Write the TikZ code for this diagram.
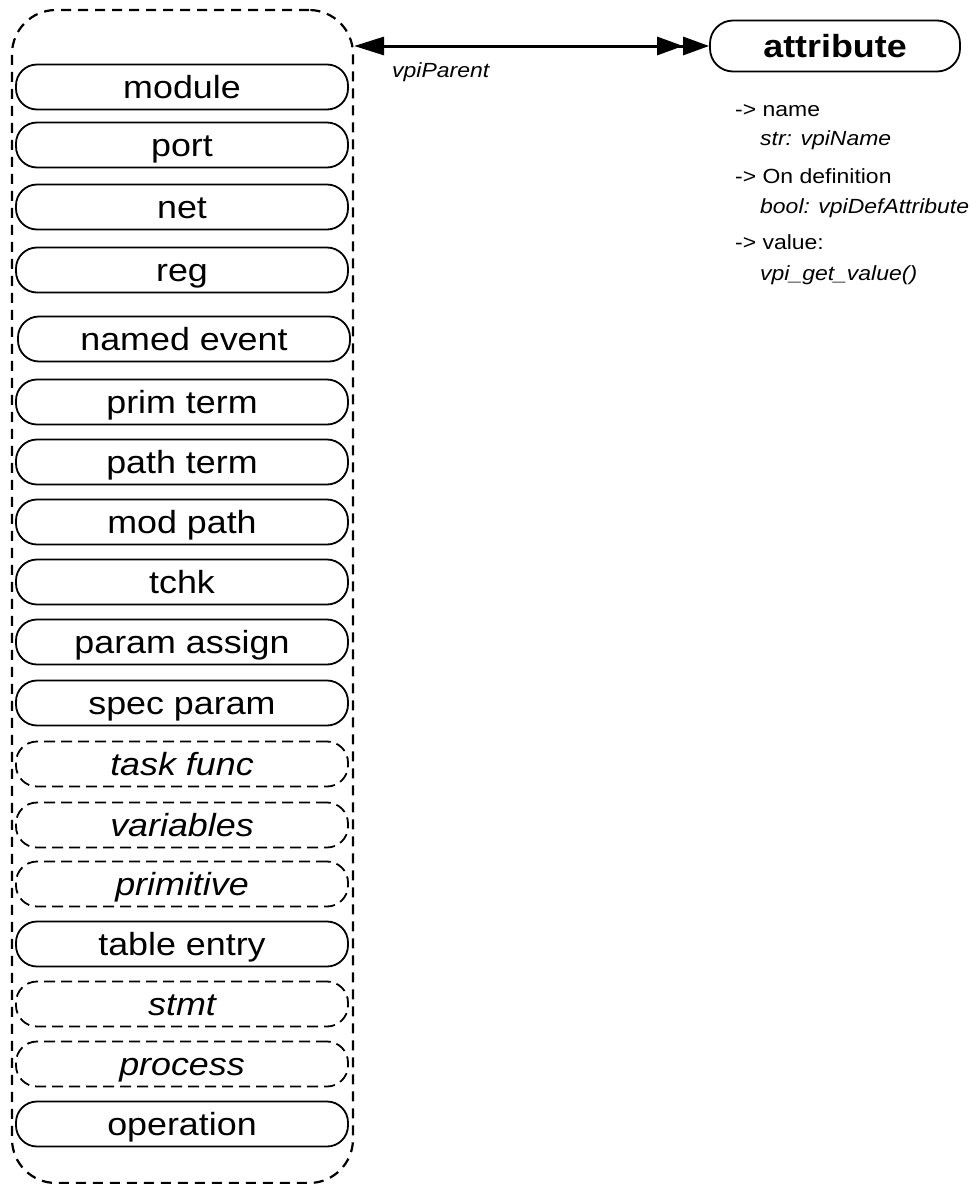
\documentclass[tikz,border=0pt]{standalone}
\usepackage{fontspec}
\setmainfont{Liberation Sans}[FakeStretch=1.12]
\usetikzlibrary{arrows.meta}
\begin{document}
\begin{tikzpicture}[x=1pt,y=-1pt,
  box/.style={draw, line width=1.8pt, rounded corners=21pt, minimum width=332pt,
    minimum height=45pt, inner sep=0pt, text height=23pt, text depth=0pt,
    font=\fontsize{32}{36}\selectfont},
  abox/.style={box, dash pattern=on 11pt off 6pt, font=\fontsize{32}{36}\selectfont\itshape},
  grp/.style={draw, line width=2.2pt, dash pattern=on 10pt off 7pt, rounded corners=44pt,
    minimum width=341pt, minimum height=1173pt, inner sep=0pt},
  attrbox/.style={draw, line width=1.8pt, rounded corners=23pt, minimum width=250pt,
    minimum height=51pt, inner sep=0pt, text height=23pt, text depth=0pt,
    font=\fontsize{32}{36}\selectfont\bfseries},
  item/.style={anchor=base west, inner sep=0pt, font=\fontsize{20.5}{24}\selectfont},
  sub/.style={item, font=\fontsize{20.5}{24}\selectfont\itshape},
  rel/.style={line width=3pt,
    {Triangle[length=30pt,width=18pt]}-{Triangle[length=26pt,width=18pt]Triangle[length=26pt,width=18pt]}}
]
\useasboundingbox (0,0) rectangle (979,1184);
\node[grp] (grp) at (182.5,596.5) {};
\node[box]  (module)  at (182,87)   {module};
\node[box]  (port)    at (182,145)  {port};
\node[box]  (net)     at (182,207)  {net};
\node[box]  (reg)     at (182,270)  {reg};
\node[box]  (nevent)  at (184,339)  {named event};
\node[box]  (primt)   at (182,402)  {prim term};
\node[box]  (patht)   at (182,462)  {path term};
\node[box]  (modpath) at (182,522)  {mod path};
\node[box]  (tchk)    at (182,582)  {tchk};
\node[box]  (passign) at (182,642)  {param assign};
\node[box]  (sparam)  at (182,703)  {spec param};
\node[abox] (taskf)   at (182,764)  {task func};
\node[abox] (vars)    at (182,825)  {variables};
\node[abox] (prim)    at (182,884)  {primitive};
\node[box]  (tentry)  at (182,944)  {table entry};
\node[abox] (stmt)    at (182,1004) {stmt};
\node[abox] (proc)    at (182,1064) {process};
\node[box]  (oper)    at (182,1124) {operation};

\node[attrbox] (attr) at (835,46) {attribute};
\draw[rel] (grp.east |- attr.west) -- (attr.west);
\node[sub] (lbl) at (392,77) {vpiParent};

\node[item] (l1) at (735,116) {-> name};
\node[sub]  (l2) at (760,145) {str: vpiName};
\node[item] (l3) at (735,183) {-> On definition};
\node[sub]  (l4) at (760,213) {bool: vpiDefAttribute};
\node[item] (l5) at (735,249) {-> value:};
\node[sub]  (l6) at (760,280) {vpi\_get\_value()};
\end{tikzpicture}
\end{document}
